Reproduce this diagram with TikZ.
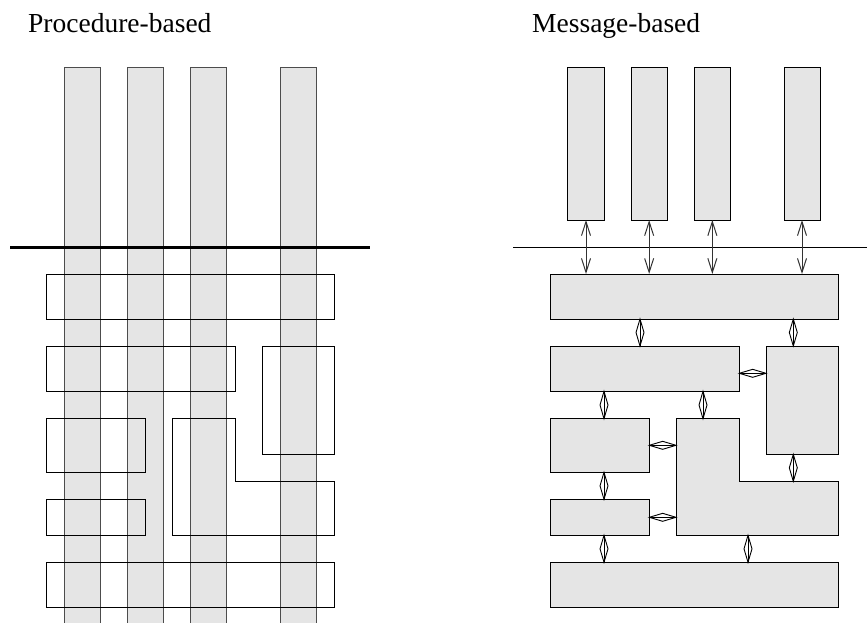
\documentclass[tikz,border=0pt]{standalone}
\usepackage{fontspec}
\setmainfont{Liberation Serif}
\usetikzlibrary{arrows.meta,calc}
\definecolor{boxgray}{RGB}{229,229,229}
\tikzset{
  unit/.style={x=1pt,y=-1pt},
  strip/.style={fill=boxgray,draw=black!70,line width=1pt},
  outline/.style={draw=black,line width=1pt},
  box/.style={draw=black,fill=boxgray,line width=1pt,inner sep=0pt,outer sep=0pt,anchor=north west},
  bus/.style={line width=1pt},
  thickbus/.style={line width=3pt},
  duplex/.style={draw=black!80,line width=1pt,{Straight Barb[length=14pt,width=9pt]}-{Straight Barb[length=14pt,width=9pt]}},
  lbl/.style={anchor=base west,inner sep=0pt,font=\fontsize{27.5}{30}\selectfont},
}
\newcommand\diaconn[2]{%
  \draw[line width=0.9pt] (#1) -- (#2);
  \draw[line width=0.9pt] (#1) -- ($($(#1)!0.5!(#2)$)!4pt!90:(#2)$) -- (#2)
     -- ($($(#1)!0.5!(#2)$)!4pt!-90:(#2)$) -- cycle;}
\newcommand\mkbox[5]{\node[box,minimum width=#4pt,minimum height=#5pt] (#1) at (#2,#3) {};}
\begin{document}
\begin{tikzpicture}[unit]
\useasboundingbox (0,0) rectangle (867,622);
\node[lbl] (t1) at (28,32.3) {Procedure-based};
\node[lbl] (t2) at (532,32.3) {Message-based};

% ---------- left: procedure-based ----------
\foreach \x in {64,127,190,280}{
  \draw[strip] (\x,67) rectangle ++(36.3,560);
}
\draw[thickbus] (10,247) -- (370,247);
\draw[outline] (46,274) rectangle (334.3,319.3);
\draw[outline] (46,346.3) rectangle (235.3,391.3);
\draw[outline] (262,346.3) rectangle (334.3,454.3);
\draw[outline] (46,418.3) rectangle (145.3,472);
\draw[outline] (46,499.3) rectangle (145.3,535.3);
\draw[outline] (172,418.3) -- (235.3,418.3) -- (235.3,481) -- (334.3,481)
   -- (334.3,535.3) -- (172,535.3) -- cycle;
\draw[outline] (46,562.3) rectangle (334.3,607.3);

% ---------- right: message-based ----------
\mkbox{T1}{567.7}{67}{36.6}{153}
\mkbox{T2}{631}{67}{36.3}{153}
\mkbox{T3}{694}{67}{36.7}{153}
\mkbox{T4}{784}{67}{36}{153}
\draw[bus] (513,247.3) -- (867,247.3);
\mkbox{B1}{550}{274}{288.3}{45}
\mkbox{G}{550}{346}{189.3}{45.3}
\mkbox{H}{766}{346}{72.3}{108.3}
\mkbox{I}{550}{418.7}{99.3}{53.6}
\mkbox{J}{550}{499.3}{99.3}{36}
\mkbox{K}{550}{562.3}{288.3}{45}
\draw[draw=black,fill=boxgray,line width=1pt] (676,418.7) -- (739.3,418.7) -- (739.3,481.3)
   -- (838.3,481.3) -- (838.3,535.3) -- (676,535.3) -- cycle;
\coordinate (Ltop) at (703,418.7);
\coordinate (Lstep) at (793.3,481.3);
\coordinate (Lleft1) at (676,445.3);
\coordinate (Lleft2) at (676,517.3);
\coordinate (Lbot) at (748,535.3);
\coordinate (x604) at (604,0);
\coordinate (x640) at (640,0);
\coordinate (x703) at (703,0);
\coordinate (x793) at (793.3,0);
\coordinate (x748) at (748,0);
\coordinate (y373) at (0,373.3);
\coordinate (y445) at (0,445.3);
\coordinate (y517) at (0,517.3);

\foreach \t in {T1,T2,T3,T4}{
  \draw[duplex] (\t.south) -- (\t.south |- B1.north);
}
\diaconn{B1.south -| x640}{G.north -| x640}
\diaconn{B1.south -| x793}{H.north -| x793}
\diaconn{G.east |- y373}{H.west |- y373}
\diaconn{G.south -| x604}{I.north -| x604}
\diaconn{G.south -| x703}{Ltop}
\diaconn{I.east |- y445}{Lleft1}
\diaconn{H.south -| x793}{Lstep}
\diaconn{I.south -| x604}{J.north -| x604}
\diaconn{J.east |- y517}{Lleft2}
\diaconn{J.south -| x604}{K.north -| x604}
\diaconn{Lbot}{K.north -| x748}
\end{tikzpicture}
\end{document}
